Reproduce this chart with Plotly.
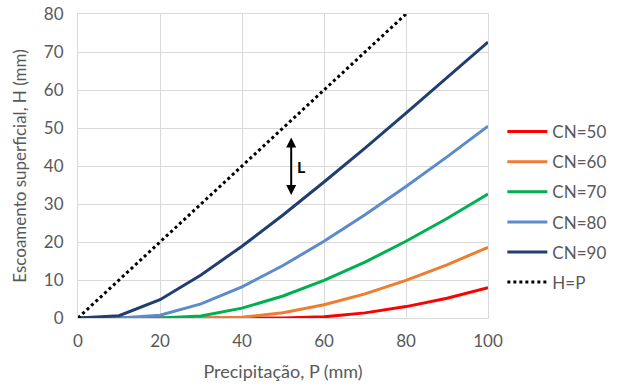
import plotly.graph_objects as go

P = [0, 10, 20, 30, 40, 50, 60, 70, 80, 90, 100]
cn50 = [0, 0, 0, 0, 0, 0, 0.3, 1.35, 3.0, 5.2, 8.0]
cn60 = [0, 0, 0, 0, 0.2, 1.4, 3.5, 6.35, 9.9, 14.0, 18.6]
cn70 = [0, 0, 0, 0.55, 2.6, 5.8, 9.9, 14.7, 20.2, 26.2, 32.6]
cn80 = [0, 0, 0.75, 3.7, 8.2, 13.8, 20.2, 27.2, 34.6, 42.4, 50.5]
cn90 = [0, 0.6, 4.8, 11.3, 18.9, 27.1, 35.8, 44.7, 53.9, 63.2, 72.6]
hp_x = [0, 80]
hp_y = [0, 80]

series = [
    ("CN=50", cn50, "#FF0000"),
    ("CN=60", cn60, "#ED7D31"),
    ("CN=70", cn70, "#00B050"),
    ("CN=80", cn80, "#5B8BCB"),
    ("CN=90", cn90, "#203F6E"),
]

fig = go.Figure()
for i, (name, vals, col) in enumerate(series):
    fig.add_trace(go.Scatter(x=P, y=vals, mode="lines", name=name,
                             line=dict(color=col, width=3), legendgroup=str(i)))
fig.add_trace(go.Scatter(x=hp_x, y=hp_y, mode="lines", name="H=P",
                         line=dict(color="black", width=3, dash="dot"), legendgroup="6"))

grid = "#D9D9D9"
txt = "#595959"
fnt = "Lato"
fig.update_layout(
    width=621, height=385,
    margin=dict(l=78, r=133, t=14, b=67, autoexpand=False),
    plot_bgcolor="white", paper_bgcolor="white",
    font=dict(family=fnt, size=15, color=txt),
    legend=dict(x=1.035, y=0.365, xanchor="left", yanchor="middle",
                tracegroupgap=5, font=dict(size=17, color=txt, family=fnt),
                itemwidth=40),
    showlegend=True,
)
fig.update_xaxes(range=[0, 100], dtick=20, showgrid=True, gridcolor=grid, gridwidth=1,
                 zeroline=False, showline=True, linecolor=grid, mirror=True,
                 ticks="outside", ticklen=8, tickcolor="white", automargin=False,
                 title=dict(text="Precipitação, P (mm)", standoff=14,
                            font=dict(size=18, color=txt, family=fnt)),
                 tickfont=dict(size=17, color=txt, family=fnt))
fig.update_yaxes(range=[0, 80], dtick=10, showgrid=True, gridcolor=grid, gridwidth=1,
                 zeroline=False, showline=True, linecolor=grid, mirror=True,
                 ticks="outside", ticklen=10, tickcolor="white", automargin=False,
                 title=dict(text="Escoamento superficial, H (mm)", standoff=12,
                            font=dict(size=17, color=txt, family=fnt)),
                 tickfont=dict(size=17, color=txt, family=fnt))

fig.add_annotation(x=52, y=47.5, ax=52, ay=32, xref="x", yref="y", axref="x", ayref="y",
                   text="", showarrow=True, arrowhead=2, arrowside="end+start",
                   arrowsize=1, arrowwidth=2, arrowcolor="black")
fig.add_annotation(x=54.6, y=40, xref="x", yref="y", text="<b>L</b>", showarrow=False,
                   font=dict(size=16, color="black", family=fnt))

fig.write_html("out.html")
